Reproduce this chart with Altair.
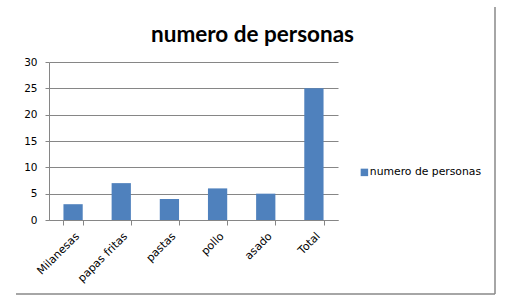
import altair as alt
import pandas as pd

categories = ["Milanesas", "papas fritas", "pastas", "pollo", "asado", "Total"]
values = [3, 7, 4, 6, 5, 25]
series_name = "numero de personas"
title_text = "numero de personas"

df = pd.DataFrame({"categoria": categories, "valor": values, "serie": [series_name] * len(categories)})

GRID = "#868686"
BAR = "#4F81BD"
FONT = "DejaVu Sans"

bars = alt.Chart(df).mark_bar(color=BAR).encode(
    x=alt.X(
        "categoria:N",
        sort=categories,
        title=None,
        scale=alt.Scale(paddingInner=0.6, paddingOuter=0.3),
        axis=alt.Axis(
            labelAngle=-45,
            labelFont=FONT,
            labelFontSize=11,
            labelColor="#000000",
            domainColor=GRID,
            tickColor=GRID,
            tickSize=5,
            tickBand="extent",
            labelPadding=5,
            grid=False,
        ),
    ),
    y=alt.Y(
        "valor:Q",
        title=None,
        scale=alt.Scale(domain=[0, 30], nice=False),
        axis=alt.Axis(
            values=[0, 5, 10, 15, 20, 25, 30],
            labelFont=FONT,
            labelFontSize=10.5,
            labelColor="#000000",
            domainColor=GRID,
            tickColor=GRID,
            gridColor=GRID,
            gridOpacity=1,
            tickSize=4,
            labelPadding=8,
        ),
    ),
    color=alt.Color(
        "serie:N",
        scale=alt.Scale(domain=[series_name], range=[BAR]),
        legend=alt.Legend(
            title=None,
            orient="none",
            legendX=310,
            legendY=105,
            symbolType="square",
            symbolSize=56,
            symbolStrokeWidth=0,
            labelFont=FONT,
            labelFontSize=10.8,
            labelColor="#000000",
            labelOffset=0,
            padding=0,
        ),
    ),
)

frame_df = pd.DataFrame({"k": [0]})
right_edge = alt.Chart(frame_df).mark_rule(color="#898989", strokeWidth=1.5).encode(
    x=alt.value(446), y=alt.value(-55), y2=alt.value(232)
)
bottom_edge = alt.Chart(frame_df).mark_rule(color="#898989", strokeWidth=1.5).encode(
    x=alt.value(-33), x2=alt.value(446), y=alt.value(232)
)

chart = (
    alt.layer(bars, right_edge, bottom_edge)
    .properties(
        width=289,
        height=158,
        autosize=alt.AutoSizeParams(type="none"),
        padding={"left": 49, "top": 62, "right": 179, "bottom": 86},
        title=alt.Title(
            title_text,
            font="Lato",
            fontSize=22.5,
            fontWeight="bold",
            color="#000000",
            anchor="middle",
            dx=59,
            dy=44,
        ),
        background="#ffffff",
    )
    .configure_view(stroke=None)
)

chart.save("out.html", embed_options={"renderer": "svg", "actions": False})
